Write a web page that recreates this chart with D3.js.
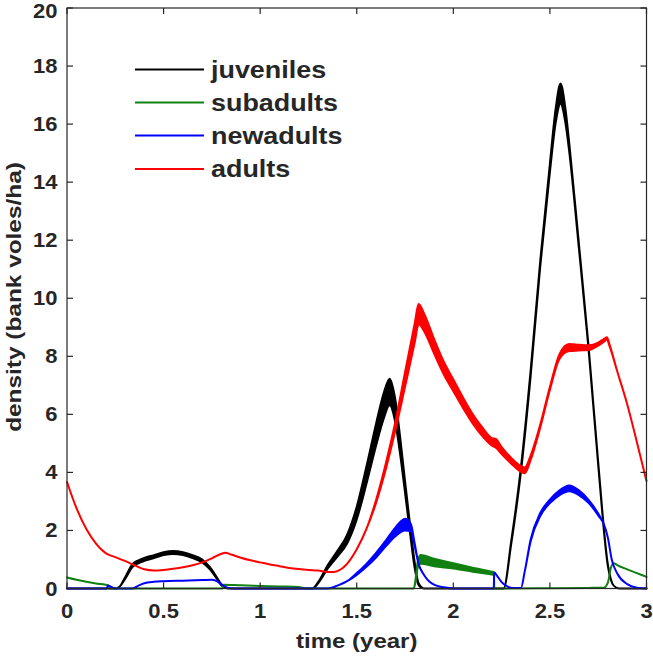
<!DOCTYPE html>
<html><head><meta charset="utf-8">
<script src="https://cdn.jsdelivr.net/npm/d3@7"></script>
<style>body{margin:0;background:#fff}svg{display:block}</style>
</head><body>
<svg id="c" width="653" height="656"></svg>
<script>
// ---- data ----
const xTicks = [0, 0.5, 1, 1.5, 2, 2.5, 3];
const xTickLabels = ["0", "0.5", "1", "1.5", "2", "2.5", "3"];
const yTicks = [0, 2, 4, 6, 8, 10, 12, 14, 16, 18, 20];
const yTickLabels = ["0", "2", "4", "6", "8", "10", "12", "14", "16", "18", "20"];
const seriesNames = ["juveniles", "subadults", "newadults", "adults"];
const seriesColors = ["#000000", "#108010", "#0000ff", "#ff0000"];

const juvT = [0,0.25,0.27,0.3,0.34,0.37,0.4,0.45,0.5,0.55,0.6,0.65,0.7,0.74,0.77,0.8,0.82,0.85,1.27,1.3,1.35,1.4,1.45,1.5,1.55,1.6,1.64,1.67,1.7,1.725,1.75,1.775,1.8,1.82,1.85,2.26,2.3,2.35,2.4,2.45,2.5,2.53,2.555,2.58,2.6,2.65,2.7,2.75,2.8,2.83,2.86,3.0];
const juvV = [0,0,0.05,0.35,0.8,0.92,1.0,1.1,1.2,1.24,1.2,1.1,0.95,0.7,0.42,0.12,0.02,0,0,0.2,0.75,1.2,1.7,2.6,3.9,5.3,6.3,6.77,6.1,4.9,3.5,2.1,0.8,0.15,0,0,1.6,4.1,7.4,11.2,14.5,16.3,17.05,16.3,15.2,11.8,8.3,4.3,0.8,0.1,0,0];
const juvS = [0,0,0,0.03,0.05,0.05,0.05,0.05,0.05,0.05,0.05,0.05,0.05,0.04,0.03,0.02,0,0,0,0.02,0.06,0.1,0.15,0.22,0.3,0.38,0.44,0.46,0.4,0.3,0.2,0.15,0.1,0.03,0,0,0.05,0.08,0.1,0.1,0.15,0.25,0.35,0.25,0.15,0.08,0.05,0.05,0.03,0,0,0];

const subT = [0,0.05,0.1,0.15,0.2,0.215,0.22,0.805,0.81,0.9,1.0,1.1,1.2,1.22,1.25,1.795,1.805,1.815,1.83,1.9,2.0,2.1,2.2,2.21,2.212,2.5,2.7,2.78,2.8,2.815,2.83,2.85,2.9,2.95,3.0];
const subV = [0.38,0.3,0.23,0.17,0.13,0.1,0,0,0.13,0.11,0.09,0.07,0.05,0.03,0,0,0.3,0.8,1.0,0.9,0.78,0.65,0.53,0.52,0,0.01,0.02,0.03,0.2,0.7,0.87,0.8,0.66,0.53,0.4];
const subS = [0,0,0,0,0,0,0,0,0,0,0,0,0,0,0,0,0.05,0.1,0.15,0.13,0.09,0.07,0.05,0.05,0,0,0,0,0,0,0,0,0,0,0];

const newT = [0,0.205,0.212,0.23,0.25,0.34,0.37,0.4,0.45,0.5,0.6,0.7,0.75,0.78,0.8,0.83,0.86,1.35,1.4,1.45,1.5,1.55,1.6,1.65,1.7,1.75,1.78,1.8,1.82,1.85,1.9,1.95,2.0,2.209,2.212,2.23,2.25,2.28,2.31,2.35,2.37,2.4,2.45,2.5,2.55,2.6,2.65,2.7,2.75,2.78,2.8,2.82,2.85,2.9,2.95,3.0];
const newV = [0,0,0.1,0.05,0,0,0.1,0.18,0.23,0.25,0.27,0.29,0.3,0.24,0.14,0.03,0,0,0.1,0.25,0.5,0.8,1.15,1.55,1.95,2.2,2.1,1.5,0.85,0.45,0.13,0.04,0,0,0.55,0.4,0.22,0.07,0.02,0.02,0.6,1.65,2.55,3.0,3.3,3.45,3.3,3.0,2.55,2.2,1.75,1.0,0.5,0.15,0.03,0];
const newS = [0,0,0,0,0,0,0,0,0,0,0,0,0,0,0,0,0,0,0,0,0.03,0.05,0.08,0.1,0.15,0.2,0.12,0.05,0,0,0,0,0,0,0,0,0,0,0,0,0,0.03,0.05,0.06,0.08,0.1,0.08,0.05,0.03,0,0,0,0,0,0,0];

const adtT = [0,0.05,0.1,0.15,0.2,0.25,0.3,0.35,0.4,0.45,0.5,0.55,0.6,0.65,0.7,0.75,0.8,0.82,0.85,0.9,0.95,1.0,1.05,1.1,1.15,1.2,1.25,1.3,1.35,1.38,1.4,1.45,1.5,1.55,1.6,1.65,1.7,1.75,1.8,1.82,1.85,1.9,1.95,2.0,2.05,2.1,2.15,2.2,2.22,2.25,2.3,2.35,2.37,2.4,2.45,2.5,2.55,2.6,2.65,2.7,2.75,2.78,2.795,2.81,2.85,2.9,2.95,3.0];
const adtV = [3.67,2.75,2.05,1.55,1.22,1.08,0.95,0.8,0.66,0.62,0.64,0.68,0.73,0.8,0.9,1.04,1.2,1.23,1.17,1.06,0.97,0.9,0.83,0.77,0.71,0.67,0.64,0.62,0.57,0.57,0.6,0.85,1.35,2.05,3.0,4.2,5.6,7.2,8.8,9.45,9.15,8.35,7.6,7.0,6.4,5.85,5.4,5.05,5.0,4.75,4.4,4.12,4.07,4.5,5.6,6.9,8.0,8.3,8.3,8.3,8.42,8.55,8.62,8.35,7.45,6.35,5.05,3.7];
const adtS = [0,0,0,0,0,0,0,0,0,0,0,0,0,0,0,0,0,0,0,0,0,0,0,0,0,0,0,0,0,0,0,0,0,0,0.05,0.1,0.15,0.25,0.33,0.35,0.3,0.25,0.22,0.2,0.18,0.16,0.15,0.13,0.15,0.12,0.1,0.1,0.1,0.08,0.05,0.05,0.08,0.12,0.1,0.08,0.05,0.05,0.04,0.03,0,0,0,0];

// ---- layout ----
const svg = d3.select("#c");
const L = 67, R = 646.5, T = 8, B = 588.5;
const x = d3.scaleLinear().domain([0, 3]).range([L, R]);
const y = d3.scaleLinear().domain([0, 20]).range([B, T]);
const FONT = "'Liberation Sans', Arial, Helvetica, sans-serif";
const TXT = "#262626";

function label(g, str, px, py, size, sx, anchor, rot) {
  g.append("text")
    .attr("transform", `translate(${px},${py})` + (rot ? ` rotate(${rot})` : "") + ` scale(${sx},1)`)
    .attr("text-anchor", anchor)
    .attr("font-family", FONT).attr("font-weight", "bold")
    .attr("font-size", size).attr("fill", TXT)
    .text(str);
}

// ---- series ----
const series = [
  {t: juvT, v: juvV, s: juvS},
  {t: subT, v: subV, s: subS},
  {t: newT, v: newV, s: newS},
  {t: adtT, v: adtV, s: adtS}
];
const area = d3.area().x(d => x(d.t)).y0(d => y(d.v - d.s)).y1(d => y(d.v + d.s)).curve(d3.curveMonotoneX);
const gData = svg.append("g");
series.forEach((sr, i) => {
  const pts = sr.t.map((t, k) => ({t: t, v: sr.v[k], s: sr.s[k]}));
  gData.append("path").datum(pts).attr("d", area)
    .attr("fill", seriesColors[i]).attr("stroke", seriesColors[i])
    .attr("stroke-width", 2).attr("stroke-linejoin", "round");
});

// ---- axes box and ticks ----
const gAx = svg.append("g");
gAx.append("rect").attr("x", L).attr("y", T).attr("width", R - L).attr("height", B - T)
  .attr("fill", "none").attr("stroke", TXT).attr("stroke-width", 1.2);
const tl = 6;
xTicks.forEach(v => {
  gAx.append("line").attr("x1", x(v)).attr("x2", x(v)).attr("y1", B).attr("y2", B - tl).attr("stroke", TXT).attr("stroke-width", 1.2);
  gAx.append("line").attr("x1", x(v)).attr("x2", x(v)).attr("y1", T).attr("y2", T + tl).attr("stroke", TXT).attr("stroke-width", 1.2);
});
yTicks.forEach(v => {
  gAx.append("line").attr("x1", L).attr("x2", L + tl).attr("y1", y(v)).attr("y2", y(v)).attr("stroke", TXT).attr("stroke-width", 1.2);
  gAx.append("line").attr("x1", R).attr("x2", R - tl).attr("y1", y(v)).attr("y2", y(v)).attr("stroke", TXT).attr("stroke-width", 1.2);
});
xTicks.forEach((v, i) => label(gAx, xTickLabels[i], x(v), 618, 20, 1.1, "middle"));
yTicks.forEach((v, i) => label(gAx, yTickLabels[i], 57.5, Math.max(y(v) + 7, 17.5), 20, 1.1, "end"));

label(gAx, "time (year)", (L + R) / 2, 648, 20, 1.2, "middle");
label(gAx, "density (bank voles/ha)", 20.5, 297, 20, 1.22, "middle", -90);

// ---- legend ----
const gLeg = svg.append("g");
const legY = [69.5, 102.5, 135.5, 169];
seriesNames.forEach((n, i) => {
  gLeg.append("line").attr("x1", 135).attr("x2", 204).attr("y1", legY[i]).attr("y2", legY[i])
    .attr("stroke", seriesColors[i]).attr("stroke-width", 2);
  label(gLeg, n, 211, legY[i] + 8, 23, 1.17, "start");
});
</script>
</body></html>
